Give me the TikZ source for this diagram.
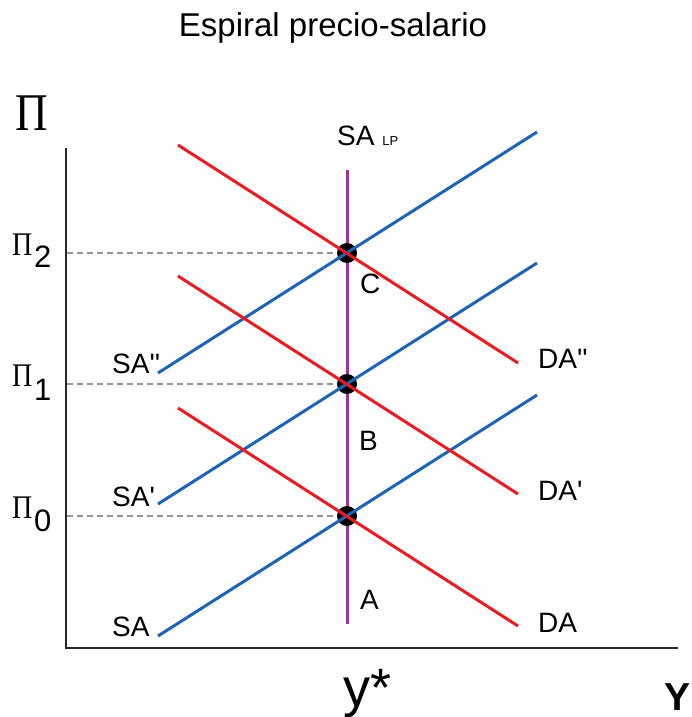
\documentclass[tikz,border=0pt]{standalone}
\usepackage{fontspec}
\setmainfont{Liberation Sans}[Ligatures=TeXOff]
\newfontfamily\pifont[FakeStretch=0.85]{Liberation Serif}
\definecolor{sablue}{RGB}{31,99,181}
\definecolor{dared}{RGB}{230,30,36}
\definecolor{lppurple}{RGB}{170,40,170}
\definecolor{axisgray}{RGB}{40,40,40}
\definecolor{dashgray}{RGB}{150,150,150}
\begin{document}
\begin{tikzpicture}[x=1pt,y=-1pt,
  axisline/.style={draw=axisgray, line width=2pt},
  guide/.style={draw=dashgray, line width=1.3pt, dash pattern=on 6pt off 4pt},
  saline/.style={draw=sablue, line width=3pt},
  daline/.style={draw=dared, line width=3pt},
  lpline/.style={draw=lppurple, line width=3pt},
  eqdot/.style={circle, fill=black, minimum size=20pt, inner sep=0pt},
  lab/.style={anchor=base west, inner sep=0pt, font=\fontsize{28}{30}\selectfont},
  pilab/.style={anchor=base west, inner sep=0pt, font=\fontsize{33}{35}\selectfont\pifont},
  sublab/.style={anchor=base west, inner sep=0pt, font=\fontsize{31}{33}\selectfont},
]
\useasboundingbox (0,0) rectangle (692,717);

% title
\node[anchor=base, inner sep=0pt, font=\fontsize{33}{35}\selectfont] (title) at (333,37) {Espiral precio-salario};

% axes
\coordinate (ytop) at (66,148);
\coordinate (orig) at (66,648);
\coordinate (xend) at (678,648);
\draw[axisline] (ytop) -- (orig) -- (xend);

% equilibrium points
\coordinate (A) at (347,516);
\coordinate (B) at (347,384);
\coordinate (C) at (347,253);

% dashed guides
\coordinate (g0) at (67,516);
\coordinate (g1) at (67,384);
\coordinate (g2) at (67,253);
\draw[guide] (g0) -- (A);
\draw[guide] (g1) -- (B);
\draw[guide] (g2) -- (C);

% long-run supply
\coordinate (lptop) at (347,170);
\coordinate (lpbot) at (347,624);
\draw[lpline] (lptop) -- (lpbot);

% dots
\node[eqdot] (dotA) at (A) {};
\node[eqdot] (dotB) at (B) {};
\node[eqdot] (dotC) at (C) {};

% SA curves
\coordinate (sa0s) at (158,636); \coordinate (sa0e) at (537,395);
\coordinate (sa1s) at (158,504); \coordinate (sa1e) at (537,263);
\coordinate (sa2s) at (158,373); \coordinate (sa2e) at (537,132);
\draw[saline] (sa0s) -- (sa0e);
\draw[saline] (sa1s) -- (sa1e);
\draw[saline] (sa2s) -- (sa2e);

% DA curves
\coordinate (da0s) at (178,408); \coordinate (da0e) at (518,626);
\coordinate (da1s) at (178,276); \coordinate (da1e) at (518,494);
\coordinate (da2s) at (178,145); \coordinate (da2e) at (518,363);
\draw[daline] (da0s) -- (da0e);
\draw[daline] (da1s) -- (da1e);
\draw[daline] (da2s) -- (da2e);

% labels
\node[lab] (lSA) at (112,636) {SA};
\node[lab] (lSA1) at (112,506) {SA'};
\node[lab] (lSA2) at (112,373) {SA''};
\node[lab] (lDA) at (538,632) {DA};
\node[lab] (lDA1) at (538,500) {DA'};
\node[lab] (lDA2) at (538,368) {DA''};
\node[lab] (lA) at (360,609) {A};
\node[lab] (lB) at (359,450) {B};
\node[lab] (lC) at (360,293) {C};
\node[lab] (lLP) at (337,145) {SA {\fontsize{13}{14}\selectfont LP}};

% axis labels
\node[anchor=base, inner sep=0pt, font=\fontsize{53}{55}\selectfont\pifont] (lPi) at (32,130) {Π};
\node[pilab] (lPi2) at (12,255) {Π};
\node[sublab] (lPi2s) at (34,267) {2};
\node[pilab] (lPi1) at (12,386) {Π};
\node[sublab] (lPi1s) at (34,400) {1};
\node[pilab] (lPi0) at (12,518) {Π};
\node[sublab] (lPi0s) at (34,531) {0};
\node[anchor=base, inner sep=0pt, font=\fontsize{54}{56}\selectfont] (lystar) at (368,706) {y*};
\node[anchor=base, inner sep=0pt, font=\fontsize{39}{41}\selectfont\bfseries] (lY) at (677,710) {Y};
\end{tikzpicture}
\end{document}
